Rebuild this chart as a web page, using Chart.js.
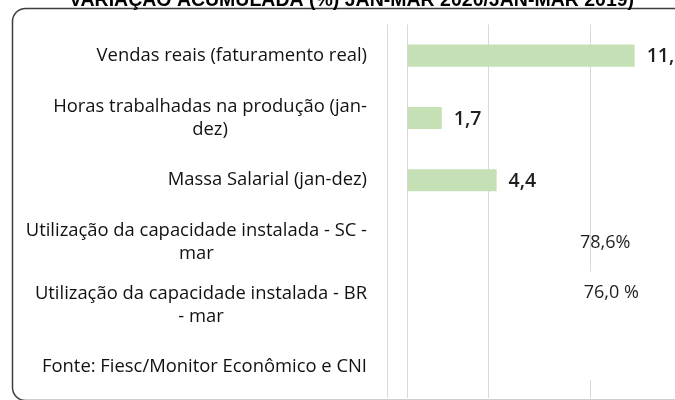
<!DOCTYPE html>
<html>
<head>
<meta charset="utf-8">
<script src="https://cdn.jsdelivr.net/npm/chart.js@4/dist/chart.umd.min.js"></script>
<style>
  html, body { margin: 0; padding: 0; background: #ffffff; overflow: hidden; }
  #wrap { position: absolute; left: 0; top: 0; width: 675px; height: 400px; overflow: hidden; }
  canvas { position: absolute; left: 0; top: 0; }
</style>
</head>
<body>
<div id="wrap"><canvas id="c" width="700" height="420"></canvas></div>
<script>
// ---- data ----
const titleText = "VARIAÇÃO ACUMULADA (%) JAN-MAR 2020/JAN-MAR 2019)";
const categories = [
  ["Vendas reais (faturamento real)"],
  ["Horas trabalhadas na produção (jan-", "dez)"],
  ["Massa Salarial (jan-dez)"],
  ["Utilização da capacidade instalada - SC -", "mar"],
  ["Utilização da capacidade instalada - BR", "- mar"],
  ["Fonte: Fiesc/Monitor Econômico e CNI"]
];
const values = [11.2, 1.7, 4.4, null, null, null];
const valueLabels = ["11,2", "1,7", "4,4", "", "", ""];
const capacityLabels = ["", "", "", "78,6%", "76,0 %", ""];
const gridTicks = [-1, 0, 4, 9, 14];

const labelPlugin = {
  id: 'custom',
  beforeDraw(chart) {
    const ctx = chart.ctx;
    ctx.save();
    ctx.fillStyle = '#ffffff';
    ctx.fillRect(0, 0, chart.width, chart.height);
    // rounded frame
    ctx.strokeStyle = '#3f3f3f';
    ctx.lineWidth = 1.5;
    ctx.beginPath();
    ctx.roundRect(12.5, 8.5, chart.width + 20, 392, 13);
    ctx.stroke();
    // title
    ctx.fillStyle = '#000000';
    ctx.font = 'bold 19.5px "Liberation Sans", Arial, sans-serif';
    ctx.textAlign = 'center';
    ctx.textBaseline = 'alphabetic';
    ctx.fillText(titleText, 351.5, 6);
    ctx.restore();
  },
  afterDatasetsDraw(chart) {
    const ctx = chart.ctx;
    const x = chart.scales.x, y = chart.scales.y;
    const meta = chart.getDatasetMeta(0);
    ctx.save();
    // category labels (right-aligned block, lines centered to each other)
    ctx.font = '18.4px "Open Sans", sans-serif';
    ctx.fillStyle = '#111111';
    ctx.textBaseline = 'middle';
    ctx.textAlign = 'center';
    const right = chart.chartArea.left - 20;
    const lh = 23;
    categories.forEach((lines, i) => {
      const cy = y.getPixelForValue(i);
      const w = Math.max(...lines.map(l => ctx.measureText(l).width));
      const cx = right - w / 2;
      const y0 = cy - (lines.length - 1) * lh / 2;
      lines.forEach((l, k) => ctx.fillText(l, cx, y0 + k * lh));
    });
    // bar value labels
    ctx.font = '600 19.5px "Open Sans", sans-serif';
    ctx.fillStyle = '#1f1f1f';
    ctx.textAlign = 'left';
    values.forEach((v, i) => {
      if (v === null) return;
      const el = meta.data[i];
      ctx.fillText(valueLabels[i], el.x + 12, el.y + 1);
    });
    // capacity utilisation text labels
    const anchors = {3: {v: 9.75, dy: 0}, 4: {v: 10.05, dy: -12}};
    ctx.font = '18px "Open Sans", sans-serif';
    ctx.textAlign = 'center';
    capacityLabels.forEach((t, i) => {
      if (!t) return;
      const a = anchors[i];
      const px = x.getPixelForValue(a.v);
      const py = y.getPixelForValue(i) + a.dy;
      if (i === 4) {
        ctx.fillStyle = '#ffffff';
        ctx.fillRect(px - 36, py - 21, 72, 108);
      }
      ctx.fillStyle = '#1f1f1f';
      ctx.fillText(t, px, py);
    });
    ctx.restore();
  }
};

new Chart(document.getElementById('c'), {
  type: 'bar',
  data: {
    labels: categories,
    datasets: [{
      data: values,
      backgroundColor: '#c5e0b4',
      borderWidth: 0,
      categoryPercentage: 1,
      barPercentage: 0.355
    }]
  },
  options: {
    indexAxis: 'y',
    responsive: false,
    animation: false,
    devicePixelRatio: 1,
    layout: { padding: { left: 387, top: 24.5, right: 8.5, bottom: 21.7 } },
    plugins: { legend: { display: false }, title: { display: false }, tooltip: { enabled: false } },
    scales: {
      x: {
        min: -1, max: 14,
        afterBuildTicks: (s) => { s.ticks = gridTicks.map(v => ({ value: v })); },
        afterFit: (s) => { s.height = 0; },
        ticks: { display: false },
        border: { display: false },
        grid: { color: '#d9d9d9', lineWidth: 1, drawTicks: false }
      },
      y: { display: false }
    }
  },
  plugins: [labelPlugin]
});
</script>
</body>
</html>
